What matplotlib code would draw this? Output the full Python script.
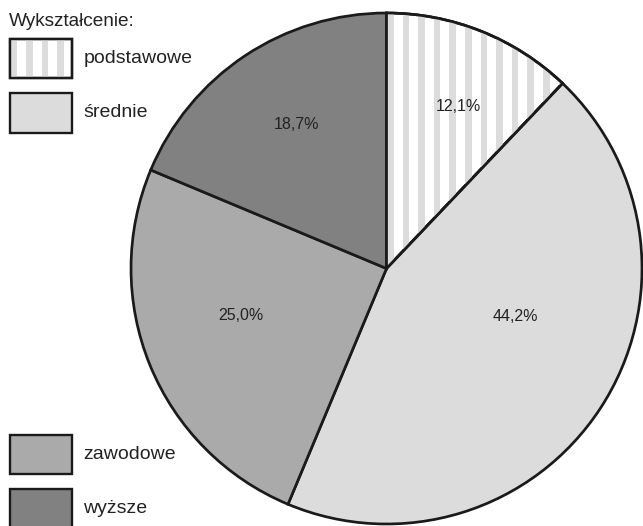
import matplotlib
matplotlib.use("Agg")
import matplotlib.pyplot as plt
from matplotlib.patches import Rectangle, Wedge
import numpy as np

plt.rcParams['font.family'] = ['Liberation Sans', 'DejaVu Sans']

# ---- data ----
legend_title = "Wykształcenie:"
categories = ["podstawowe", "średnie", "zawodowe", "wyższe"]
shares = [12.1, 44.2, 25.0, 18.7]
value_labels = ["12,1%", "44,2%", "25,0%", "18,7%"]

# ---- style / layout ----
face_colors = ["white", "#dcdcdc", "#aaaaaa", "#818181"]
striped = [True, False, False, False]
stripe_color = "#dcdcdc"
edge_color = "#1a1a1a"
text_color = "#222222"
# label offsets (in pie-radius units)
label_offsets = [(0.282, 0.636), (0.505, -0.188), (-0.569, -0.184), (-0.352, 0.564)]
# legend box tops (pixels from top)
legend_box_tops = [38.5, 93, 434.5, 488.5]

W, H = 643, 526
DPI = 100
fig = plt.figure(figsize=(W / DPI, H / DPI), dpi=DPI)

cx, cy, R = 386.5, 268.5, 255.5
ax = fig.add_axes([(cx - R) / W, (H - cy - R) / H, 2 * R / W, 2 * R / H])
wedges, _ = ax.pie(shares, startangle=90, counterclock=False, radius=1,
                   colors=face_colors,
                   wedgeprops=dict(edgecolor=edge_color, linewidth=1.95))
ax.set_xlim(-1, 1)
ax.set_ylim(-1, 1)
ax.set_aspect('auto')
ax.axis('off')
for w in wedges:
    w.set_clip_on(False)

period = 15.6 / R
swidth = 6.5 / R
for w, st in zip(wedges, striped):
    if not st:
        continue
    xs = np.arange(0.002, 1.0, period)
    xs = np.concatenate([-xs[::-1] - swidth, xs])
    for x0 in xs:
        r = Rectangle((x0, -1.05), swidth, 2.1, facecolor=stripe_color,
                      edgecolor='none', zorder=w.get_zorder() + 0.1)
        ax.add_patch(r)
        r.set_clip_path(w)
    edge = Wedge((0, 0), 1, w.theta1, w.theta2, facecolor='none',
                 edgecolor=edge_color, linewidth=1.95,
                 zorder=w.get_zorder() + 0.2, clip_on=False)
    ax.add_patch(edge)

for (dx, dy), lab in zip(label_offsets, value_labels):
    ax.text(dx, dy, lab, ha='center', va='center', fontsize=11.5, color=text_color)

# ---- legend (pixel overlay) ----
lax = fig.add_axes([0, 0, 1, 1], zorder=5)
lax.set_xlim(0, W)
lax.set_ylim(H, 0)
lax.axis('off')
lax.patch.set_alpha(0)

lax.text(8.5, 26.5, legend_title, ha='left', va='baseline', fontsize=13.7,
         color=text_color)
bw, bh = 62, 39.5
bx = 10
for cat, top, fc, st in zip(categories, legend_box_tops, face_colors, striped):
    box = Rectangle((bx, top), bw, bh, facecolor=fc, edgecolor=edge_color,
                    linewidth=1.7, zorder=3, clip_on=False)
    lax.add_patch(box)
    if st:
        for x0 in np.arange(bx + 0.5, bx + bw, 15.6):
            s = Rectangle((x0, top), 6.5, bh, facecolor=stripe_color,
                          edgecolor='none', zorder=3.1)
            lax.add_patch(s)
            s.set_clip_path(box)
        lax.add_patch(Rectangle((bx, top), bw, bh, facecolor='none',
                                edgecolor=edge_color, linewidth=1.7, zorder=3.2))
    lax.text(83.5, top + bh / 2, cat, ha='left', va='center', fontsize=14,
             color=text_color)

fig.savefig("out.png", dpi=DPI)
